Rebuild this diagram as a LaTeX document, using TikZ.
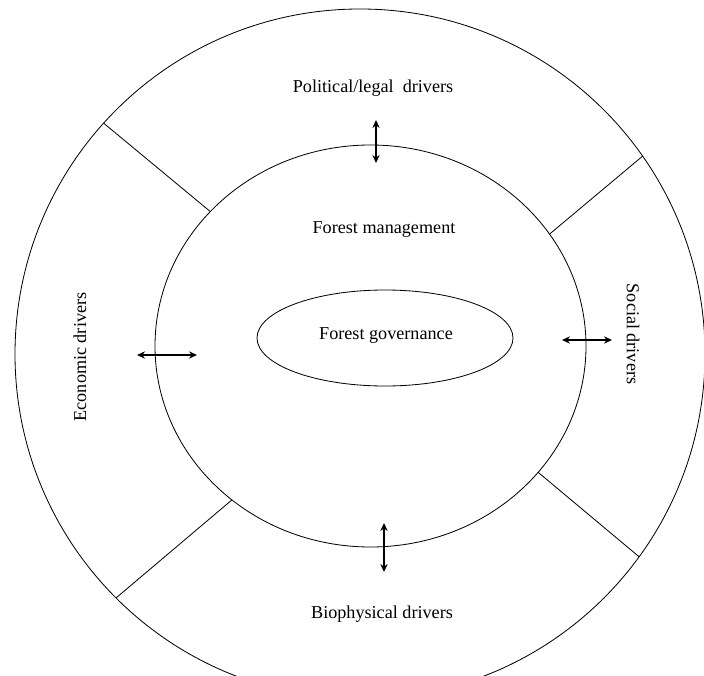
\documentclass[tikz,border=0pt]{standalone}
\usepackage{fontspec}
\setmainfont{Liberation Serif}
\usetikzlibrary{shapes.geometric,arrows.meta}

\tikzset{
    ring/.style={draw,ellipse,inner sep=0pt,outer sep=0pt,line width=0.7pt},
    spoke/.style={line width=0.7pt},
    lbl/.style={font=\fontsize{15.5}{18}\selectfont},
    dbl/.style={{Stealth[length=2.4mm,width=2.2mm]}-{Stealth[length=2.4mm,width=2.2mm]},line width=1pt}
}

\begin{document}
\begin{tikzpicture}[x=0.3mm,y=-0.3mm]
                \useasboundingbox (0,0) rectangle (704,675);
                \clip (0,0) rectangle (704,675);

                \node[ring,minimum width=207mm,minimum height=207mm] (o) at (360,354) {};
                \node[ring,minimum width=129.3mm,minimum height=120.6mm] (m) at (370.5,346) {};
                \node[ring,minimum width=76.8mm,minimum height=28.8mm] (g) at (385,338) {};

                \node[lbl] (pol) at (373,88) {Political/legal~ drivers};
                \node[lbl] (man) at (384,230) {Forest management};
                \node[lbl] (gov) at (386,336) {Forest governance};
                \node[lbl,rotate=90] (eco) at (80,357) {Economic drivers};
                \node[lbl,rotate=-90] (soc) at (633,334) {Social drivers};
                \node[lbl] (bio) at (382,614) {Biophysical drivers};

                \coordinate (t1) at (376,120); \coordinate (t2) at (376,163);
                \coordinate (b1) at (384,523); \coordinate (b2) at (384,572);
                \coordinate (l1) at (137,355); \coordinate (l2) at (197,355);
                \coordinate (r1) at (562,340); \coordinate (r2) at (612,340);

                \draw[spoke] (o.138.5) to (m.140.3); \draw[spoke] (o.35.4) to (m.32.8);
                \draw[spoke] (o.225.5) to (m.228); \draw[spoke] (o.324.8) to (m.323);
                \draw[dbl] (t1) to (t2); \draw[dbl] (b1) to (b2);
                \draw[dbl] (l1) to (l2); \draw[dbl] (r1) to (r2);
            \end{tikzpicture}
\end{document}
